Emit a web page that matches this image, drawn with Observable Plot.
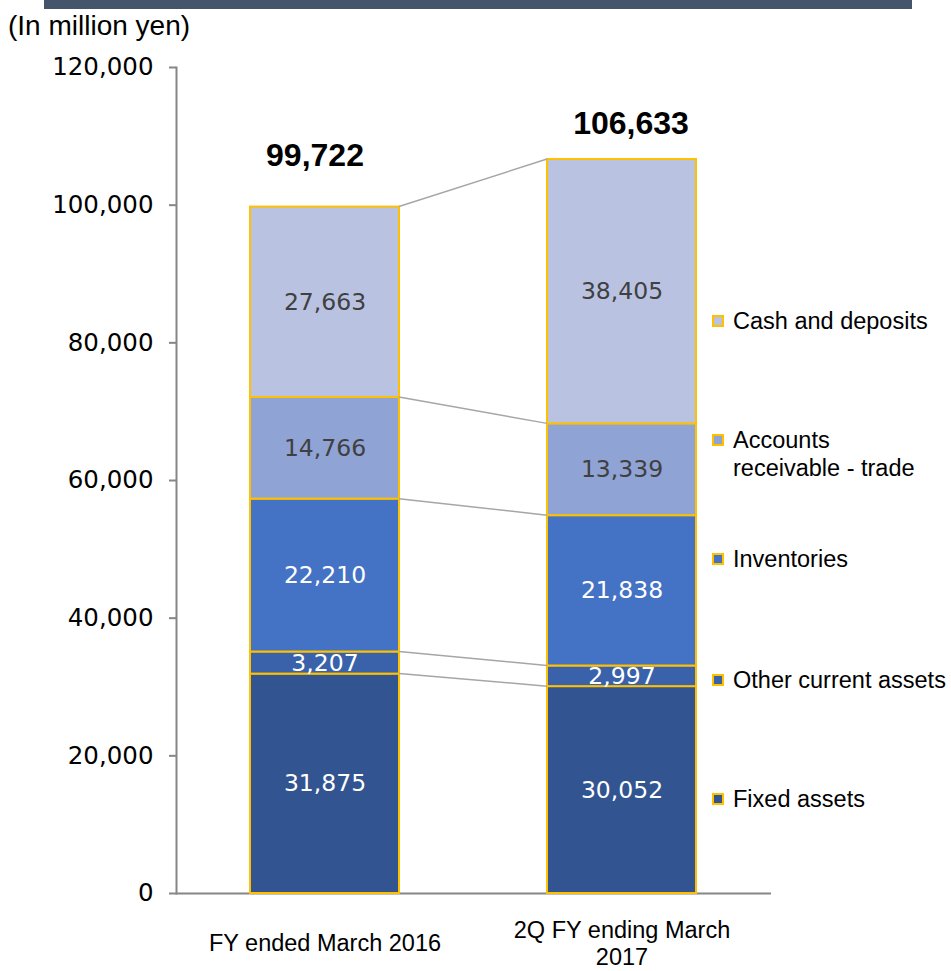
<!DOCTYPE html>
<html><head><meta charset="utf-8">
<script src="https://cdn.jsdelivr.net/npm/d3@7"></script>
<script src="https://cdn.jsdelivr.net/npm/@observablehq/plot@0.6"></script>
<style>
body{margin:0;background:#fff;}
#wrap{position:relative;width:951px;height:971px;overflow:hidden;background:#fff;}
#topbar{position:absolute;left:44px;top:0;width:868px;height:9px;background:#44546A;}
#unit{position:absolute;left:8px;top:10px;font:28px "Liberation Sans",Arial,sans-serif;color:#000;white-space:nowrap;}
.leg{position:absolute;left:712px;font:23.5px "Liberation Sans",Arial,sans-serif;line-height:28px;color:#000;}
.leg .sw{position:absolute;left:0;top:8px;width:8px;height:8px;border:2px solid #FFC000;}
.leg .tx{margin-left:21px;white-space:nowrap;}
#chart{position:absolute;left:0;top:0;}
</style>
</head><body>
<div id="wrap">
  <div id="chart"></div>
  <div id="topbar"></div>
  <div id="unit">(In million yen)</div>
  <div id="legend"></div>
</div>
<script>
// ---- data ----
const periods = ["FY ended March 2016", "2Q FY ending March 2017"];
const periodLabels = ["FY ended March 2016", "2Q FY ending March\n2017"];
const components = ["Fixed assets", "Other current assets", "Inventories", "Accounts receivable - trade", "Cash and deposits"];
const fy2016 = [31875, 3207, 22210, 14766, 27663];
const q2fy2017 = [30052, 2997, 21838, 13339, 38405];
const totals = [99722, 106633];
const yTicks = [0, 20000, 40000, 60000, 80000, 100000, 120000];
const legendOrder = ["Cash and deposits", "Accounts receivable - trade", "Inventories", "Other current assets", "Fixed assets"];
const legendText = ["Cash and deposits", "Accounts\nreceivable - trade", "Inventories", "Other current assets", "Fixed assets"];

// ---- style ----
const colors = ["#325592", "#3A62AB", "#4472C4", "#8FA3D5", "#B9C3E1"];
const lightComponents = ["Accounts receivable - trade", "Cash and deposits"];
const legendTops = [307, 426, 545, 666, 785];
const fmt = d3.format(",");

const seriesValues = [fy2016, q2fy2017];
const rows = [];
periods.forEach((p, i) => {
  let base = 0;
  components.forEach((c, j) => {
    const v = seriesValues[i][j];
    rows.push({period: p, component: c, value: v, mid: base + v / 2});
    base += v;
  });
});
const totalRows = periods.map((p, i) => ({period: p, total: totals[i]}));
const sans = "'Liberation Sans', Arial, sans-serif";

const plot = Plot.plot({
  width: 951, height: 971,
  marginTop: 67, marginBottom: 78, marginLeft: 176, marginRight: 180,
  style: {fontFamily: "'DejaVu Sans', Verdana, sans-serif", fontSize: "24px", color: "#000", background: "transparent"},
  x: {domain: periods, paddingInner: 0.498, paddingOuter: 0.25, axis: null},
  y: {domain: [0, 120000], axis: null},
  color: {domain: components, range: colors},
  marks: [
    Plot.frame({anchor: "left", stroke: "#868686", strokeWidth: 2}),
    Plot.ruleY([0], {stroke: "#868686", strokeWidth: 2}),
    Plot.axisY({ticks: yTicks, tickFormat: fmt, tickSize: 7, tickPadding: 16, stroke: "#868686", strokeWidth: 2, fill: "#000", fontSize: 24.5}),
    Plot.barY(rows, {x: "period", y: "value", fill: "component", stroke: "#FFC000", strokeWidth: 2}),
    Plot.text(rows.filter(d => lightComponents.includes(d.component)), {
      x: "period", y: "mid", text: d => fmt(d.value), fill: "#404040", fontSize: 23.5
    }),
    Plot.text(rows.filter(d => !lightComponents.includes(d.component)), {
      x: "period", y: "mid", text: d => fmt(d.value), fill: "#fff", fontSize: 23.5
    }),
    Plot.text(totalRows.slice(0, 1), {x: "period", y: "total", text: d => fmt(d.total), dx: -10, dy: -51, fontFamily: sans, fontWeight: "bold", fontSize: 32, fill: "#000"}),
    Plot.text(totalRows.slice(1), {x: "period", y: "total", text: d => fmt(d.total), dx: 9, dy: -36, fontFamily: sans, fontWeight: "bold", fontSize: 32, fill: "#000"}),
    Plot.text(periods, {x: d => d, text: (d, i) => periodLabels[i], frameAnchor: "bottom", dy: 49, lineAnchor: "middle", lineHeight: 1.17, fontFamily: sans, fontSize: 23.5, fill: "#000"})
  ]
});
document.getElementById("chart").appendChild(plot);

// connector lines between stacked boundaries, placed via Plot's scales
const xs = plot.scale("x"), ys = plot.scale("y");
const cum0 = Array.from(d3.cumsum(fy2016));
const cum1 = Array.from(d3.cumsum(q2fy2017));
const xa = xs.apply(periods[0]) + xs.bandwidth;
const xb = xs.apply(periods[1]);
const g = d3.select(plot).append("g").attr("aria-label", "connectors");
cum0.forEach((v, i) => {
  g.append("line")
    .attr("x1", xa).attr("y1", ys.apply(v))
    .attr("x2", xb).attr("y2", ys.apply(cum1[i]))
    .attr("stroke", "#A6A6A6").attr("stroke-width", 1.5);
});

// legend
const legend = document.getElementById("legend");
legendOrder.forEach((name, i) => {
  const div = document.createElement("div");
  div.className = "leg";
  div.style.top = legendTops[i] + "px";
  const sw = document.createElement("div");
  sw.className = "sw";
  sw.style.background = colors[components.indexOf(name)];
  const tx = document.createElement("div");
  tx.className = "tx";
  tx.innerHTML = legendText[i].split("\n").join("<br>");
  div.appendChild(sw); div.appendChild(tx);
  legend.appendChild(div);
});
</script>
</body></html>
